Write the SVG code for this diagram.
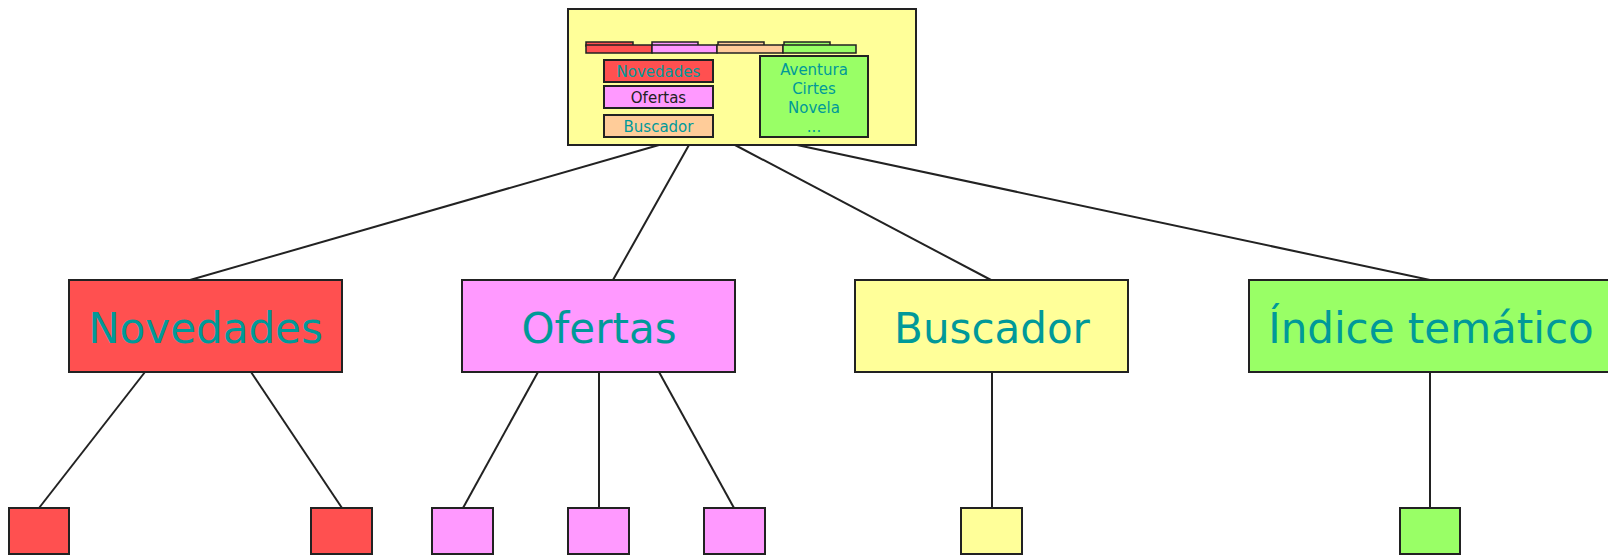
<svg xmlns="http://www.w3.org/2000/svg" width="1608" height="555" viewBox="0 0 1608 555">
<style>
rect{stroke:#222;stroke-width:2}
.red{fill:#ff5050}.pink{fill:#ff99ff}.yel{fill:#ffff99}.grn{fill:#99ff66}.org{fill:#ffcc99}
text{font-family:"DejaVu Sans","Liberation Sans",sans-serif;fill:#009999;text-anchor:middle}
.big{font-size:42px}
.sm{font-size:15px}
.conn line{stroke:#222;stroke-width:2}
</style>
<rect width="1608" height="555" fill="#fff" style="stroke:none"/>
<g class="conn">
<line x1="659" y1="145" x2="190" y2="280"/>
<line x1="689" y1="145" x2="613" y2="280"/>
<line x1="735" y1="145" x2="991" y2="280"/>
<line x1="797" y1="145" x2="1430" y2="280"/>
<line x1="145" y1="372" x2="39" y2="508"/>
<line x1="251" y1="372" x2="342" y2="508"/>
<line x1="538" y1="372" x2="463" y2="508"/>
<line x1="599" y1="372" x2="599" y2="508"/>
<line x1="659" y1="372" x2="734" y2="508"/>
<line x1="992" y1="372" x2="992" y2="508"/>
<line x1="1430" y1="372" x2="1430" y2="508"/>
</g>
<g id="home">
<rect class="yel" x="568" y="9" width="348" height="136"/>
<rect class="red" x="586" y="42" width="47" height="4" style="stroke-width:1.5"/>
<rect class="pink" x="652" y="42" width="46" height="4" style="stroke-width:1.5"/>
<rect class="org" x="718" y="42" width="46" height="4" style="stroke-width:1.5"/>
<rect class="grn" x="784" y="42" width="46" height="4" style="stroke-width:1.5"/>
<rect class="red" x="586" y="45" width="66" height="8" style="stroke-width:1.5"/>
<rect class="pink" x="652" y="45" width="65" height="8" style="stroke-width:1.5"/>
<rect class="org" x="717" y="45" width="66" height="8" style="stroke-width:1.5"/>
<rect class="grn" x="783" y="45" width="73" height="8" style="stroke-width:1.5"/>
<rect class="red" x="604" y="60" width="109" height="22"/>
<text class="sm" x="658.5" y="77">Novedades</text>
<rect class="pink" x="604" y="86" width="109" height="22"/>
<text class="sm" x="658.5" y="103" style="fill:#222">Ofertas</text>
<rect class="org" x="604" y="115" width="109" height="22"/>
<text class="sm" x="658.5" y="132">Buscador</text>
<rect class="grn" x="760" y="56" width="108" height="81"/>
<text class="sm" x="814" y="75">Aventura</text>
<text class="sm" x="814" y="94">Cirtes</text>
<text class="sm" x="814" y="113">Novela</text>
<text class="sm" x="814" y="132">...</text>
</g>
<g id="novedades">
<rect class="red" x="69" y="280" width="273" height="92"/>
<text class="big" x="205.5" y="343">Novedades</text>
</g>
<g id="ofertas">
<rect class="pink" x="462" y="280" width="273" height="92"/>
<text class="big" x="599" y="343">Ofertas</text>
</g>
<g id="buscador">
<rect class="yel" x="855" y="280" width="273" height="92"/>
<text class="big" x="992" y="343">Buscador</text>
</g>
<g id="indice">
<rect class="grn" x="1249" y="280" width="370" height="92"/>
<text class="big" x="1431" y="343">Índice temático</text>
</g>
<g id="leaf-n1"><rect class="red" x="9" y="508" width="60" height="46"/></g>
<g id="leaf-n2"><rect class="red" x="311" y="508" width="61" height="46"/></g>
<g id="leaf-o1"><rect class="pink" x="432" y="508" width="61" height="46"/></g>
<g id="leaf-o2"><rect class="pink" x="568" y="508" width="61" height="46"/></g>
<g id="leaf-o3"><rect class="pink" x="704" y="508" width="61" height="46"/></g>
<g id="leaf-b1"><rect class="yel" x="961" y="508" width="61" height="46"/></g>
<g id="leaf-i1"><rect class="grn" x="1400" y="508" width="60" height="46"/></g>
</svg>
